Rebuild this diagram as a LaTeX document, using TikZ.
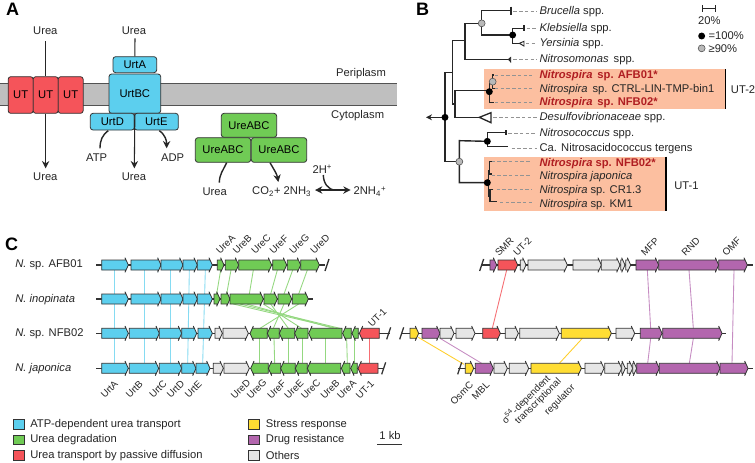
\documentclass[tikz,border=0pt]{standalone}
\usepackage{fontspec}
\setmainfont{Liberation Sans}
\usetikzlibrary{arrows.meta}
\definecolor{cyanp}{HTML}{5CCFEE}
\definecolor{greenp}{HTML}{70CB55}
\definecolor{redp}{HTML}{F5545A}
\definecolor{purplep}{HTML}{B366AE}
\definecolor{yellowp}{HTML}{FFDD33}
\definecolor{grayp}{HTML}{E6E6E6}
\definecolor{salmon}{HTML}{FCBFA0}
\definecolor{darkred}{HTML}{B01E22}
\definecolor{outl}{HTML}{333333}
\tikzset{
  lab/.style={inner sep=0pt,font=\fontsize{8.4}{10}\selectfont,text=black!85},
  gl/.style={inner sep=0pt,rotate=45,font=\fontsize{7.3}{9}\selectfont,text=black!85},
  prot/.style={draw=outl,line width=.6pt,rounded corners=2pt,inner sep=0pt,font=\fontsize{8.4}{10}\selectfont},
  flow/.style={line width=.8pt,draw=black!85,-{Stealth[length=5.5pt,width=5.5pt]}},
  plainline/.style={line width=.8pt,draw=black!85},
  genepath/.style={draw=outl,line width=.6pt,line join=miter},
  backbone/.style={draw=outl,line width=1pt},
  branch/.style={draw=black!85,line width=1.05pt},
  lead/.style={draw=gray!85,line width=.65pt,dash pattern=on 2.6pt off 1.7pt},
  full/.style={circle,fill=black,inner sep=0pt,minimum size=5.2pt},
  part/.style={circle,fill=gray!55,draw=black!70,line width=.4pt,inner sep=0pt,minimum size=5.2pt},
  panel/.style={inner sep=0pt,font=\fontsize{13.5}{15}\selectfont\bfseries},
  clink/.style={draw=#1,line width=.65pt},
  legbox/.style={draw=outl,line width=.4pt,minimum width=8.5pt,minimum height=7.2pt,inner sep=0pt},
}
% Gene arrows, pointing right or left: colour, start, end, row
\newcommand{\gr}[4]{\draw[genepath,fill=#1] (#2,#4-15) -- (#3-8,#4-15) -- (#3-10,#4-22) -- (#3,#4) -- (#3-10,#4+22) -- (#3-8,#4+15) -- (#2,#4+15) -- cycle;}
\newcommand{\grl}[4]{\draw[genepath,fill=#1] (#3,#4-15) -- (#2+8,#4-15) -- (#2+10,#4-22) -- (#2,#4) -- (#2+10,#4+22) -- (#2+8,#4+15) -- (#3,#4+15) -- cycle;}
\begin{document}
\begin{tikzpicture}[x=.75pt,y=-.75pt]
\useasboundingbox (0,0) rectangle (755,462);
\fill[white] (0,0) rectangle (755,462);

% ---------- urea uptake and degradation ----------
\begin{scope}[x=.25pt,y=-.25pt]
\node[panel] (pa) at (38,28) {A};
\fill[gray!50] (0,250) rectangle (1190,316);
\draw[outl!85,line width=.8pt] (0,250) -- (1190,250) (0,316) -- (1190,316);
\node[lab] (peri) at (1083,222) {Periplasm};
\node[lab] (cyto) at (1073,346) {Cytoplasm};
\node[prot,fill=redp,minimum width=18.75pt,minimum height=27.5pt] (ut1) at (62,285) {UT};
\node[prot,fill=redp,minimum width=18.75pt,minimum height=27.5pt] (ut2) at (137,285) {UT};
\node[prot,fill=redp,minimum width=18.75pt,minimum height=27.5pt] (ut3) at (212,285) {UT};
\node[prot,fill=cyanp,minimum width=38.75pt,minimum height=29.5pt] (bc) at (404.5,281) {UrtBC};
\node[prot,fill=cyanp,minimum width=32.75pt,minimum height=12pt] (ua) at (404.5,194) {UrtA};
\node[prot,fill=cyanp,minimum width=33pt,minimum height=12.5pt] (ud) at (337,365) {UrtD};
\node[prot,fill=cyanp,minimum width=33pt,minimum height=12.5pt] (ue) at (469,365) {UrtE};
\node[prot,fill=greenp,minimum width=41.5pt,minimum height=18pt] (g1) at (747,376) {UreABC};
\node[prot,fill=greenp,minimum width=41.5pt,minimum height=18.5pt] (g2) at (669,450) {UreABC};
\node[prot,fill=greenp,minimum width=41.5pt,minimum height=18.5pt] (g3) at (837,450) {UreABC};
\node[lab] (u1) at (136,92) {Urea};
\node[lab] (u2) at (402,92) {Urea};
\node[lab] (u3) at (136,530) {Urea};
\node[lab] (u4) at (402,530) {Urea};
\node[lab] (u5) at (644,574) {Urea};
\node[lab] (atp) at (290,474) {ATP};
\node[lab] (adp) at (518,474) {ADP};
\node[lab] (co) at (845,576) {CO\textsubscript{2}+ 2NH\textsubscript{3}};
\node[lab] (nh) at (1110,575) {2NH\textsubscript{4}\textsuperscript{+}};
\node[lab] (hh) at (967,507) {2H\textsuperscript{+}};
\coordinate (ua1) at (137,124);
\coordinate (ub1) at (405,115);
\coordinate (dblL) at (945,570);
\coordinate (dblR) at (1052,570);
\coordinate (dblM) at (1006,570);
\coordinate (atpS) at (325,392);
\coordinate (atpE) at (300,445);
\coordinate (adpS) at (478,392);
\coordinate (adpE) at (500,445);
\coordinate (gS) at (680,488);
\coordinate (gE) at (658,548);
\coordinate (cS) at (810,488);
\coordinate (cE) at (835,546);
\coordinate (hS) at (970,525);
\draw[plainline] (ua1) -- (ut2.north);
\draw[flow] (ut2.south) -- (137,505);
\draw[plainline] (ub1) -- (ua.north);
\draw[flow] (bc.south) -- (403,505);
\draw[plainline,line width=1.05pt] (atpS) to[out=215,in=90] (atpE);
\draw[flow,line width=1.05pt] (adpS) to[out=-35,in=90] (adpE);
\draw[plainline,line width=1.05pt] (gS) to[out=245,in=90] (gE);
\draw[flow,line width=1.05pt] (cS) to[out=-60,in=100] (cE);
\draw[line width=1.05pt,draw=black!85,{Stealth[length=5.5pt,width=5.5pt]}-{Stealth[length=5.5pt,width=5.5pt]}] (dblL) -- (dblR);
\draw[plainline,line width=1.05pt] (hS) to[out=-90,in=180] (dblM);
\end{scope}

% ---------- phylogeny ----------
\begin{scope}[shift={(400,0)},x=.25pt,y=-.25pt]
\node[panel] (pb) at (68,28) {B};
\fill[salmon] (252,208) rectangle (975,327);
\fill[salmon] (252,470) rectangle (797,633);
\draw[black,line width=1pt] (977,208) -- (977,327);
\draw[black,line width=1pt] (798,470) -- (798,633);
\node[lab,anchor=west] (tU2) at (992,270) {UT-2};
\node[lab,anchor=west] (tU1) at (822,556) {UT-1};

% leader lines
\foreach \xa/\xb/\yy in {340/410/35,380/410/85,378/410/130,340/410/178,285/395/225,285/395/265,285/395/308,280/410/352,325/410/400,335/410/445,275/395/485,275/395/527,290/395/568,300/395/607}
  {\draw[lead] (\xa,\yy) -- (\xb,\yy);}

% branches
\draw[branch,-{Stealth[length=4.5pt,width=4.5pt]}] (135,352) -- (78,352);
\draw[branch] (157,218) -- (135,218) -- (135,485) -- (178,485);
\draw[branch] (157,312) -- (157,122) -- (195,122);
\draw[branch] (245,70) -- (195,70) -- (195,178) -- (325,178);
\draw[branch] (333,32) -- (245,32) -- (245,105) -- (338,105);
\draw[branch] (333,20) -- (333,45);
\draw[branch] (372,85) -- (338,85) -- (338,130) -- (358,130);
\draw[branch] (372,76) -- (372,93);
\draw[branch,fill=white,line width=.7pt] (358,130) -- (372,124) -- (372,138) -- cycle;
\draw[branch,fill=black!85,line width=.5pt] (325,178) -- (332,172) -- (332,186) -- cycle;
\draw[branch] (157,312) -- (165,312);
\draw[branch] (268,272) -- (165,272) -- (165,352) -- (238,352);
\draw[branch,fill=white,line width=1pt] (238,352) -- (273,338) -- (273,368) -- cycle;
\draw[branch] (282,225) -- (278,225) -- (278,265) -- (285,265);
\draw[branch] (268,250) -- (268,308) -- (282,308);
\draw[branch] (262,424) -- (178,422) -- (178,548) -- (262,548);
\draw[branch] (318,397) -- (262,397) -- (262,440) -- (325,440);
\draw[branch] (318,391) -- (318,404);
\draw[branch] (275,485) -- (268,485) -- (268,522) -- (275,522);
\draw[branch] (265,510) -- (265,590);
\draw[branch] (280,568) -- (270,568) -- (270,605) -- (292,605);

% support values
\node[full] (n1) at (135,352) {};
\node[part] (n2) at (245,70) {};
\node[full] (n3) at (338,105) {};
\node[part] (n4) at (278,245) {};
\node[full] (n5) at (268,275) {};
\node[full] (n6) at (262,424) {};
\node[part] (n7) at (178,485) {};
\node[full] (n8) at (262,548) {};

% taxa
\node[lab,anchor=west] (t1) at (418,36) {\textit{Brucella} spp.};
\node[lab,anchor=west] (t2) at (418,85) {\textit{Klebsiella} spp.};
\node[lab,anchor=west] (t3) at (418,131) {\textit{Yersinia} spp.};
\node[lab,anchor=west] (t4) at (418,179) {\textit{Nitrosomonas}\, spp.};
\node[lab,anchor=west,text=darkred,font=\fontsize{8.4}{10}\selectfont\bfseries] (t5) at (418,226) {\textit{Nitrospira}\, sp. AFB01*};
\node[lab,anchor=west] (t6) at (418,268) {\textit{Nitrospira}\, sp. CTRL-LIN-TMP-bin1};
\node[lab,anchor=west,text=darkred,font=\fontsize{8.4}{10}\selectfont\bfseries] (t7) at (418,309) {\textit{Nitrospira}\, sp. NFB02*};
\node[lab,anchor=west] (t8) at (418,352) {\textit{Desulfovibrionaceae} spp.};
\node[lab,anchor=west] (t9) at (418,400) {\textit{Nitrosococcus} spp.};
\node[lab,anchor=west] (t10) at (418,447) {Ca. Nitrosacidococcus tergens};
\node[lab,anchor=west,text=darkred,font=\fontsize{8.4}{10}\selectfont\bfseries] (t11) at (418,491) {\textit{Nitrospira} sp. NFB02*};
\node[lab,anchor=west] (t12) at (418,529) {\textit{Nitrospira japonica}};
\node[lab,anchor=west] (t13) at (418,573) {\textit{Nitrospira} sp. CR1.3};
\node[lab,anchor=west] (t14) at (418,615) {\textit{Nitrospira} sp. KM1};

% key
\draw[branch,{Bar[width=5pt]}-{Bar[width=5pt]}] (905,25) -- (948,25);
\node[lab] (k0) at (928,61) {20\%};
\node[full] (k1) at (905,108) {};
\node[part] (k2) at (905,145) {};
\node[lab,anchor=west] (k3) at (925,108) {=100\%};
\node[lab,anchor=west] (k4) at (925,146) {≥90\%};
\end{scope}

% ---------- urea gene clusters ----------
\begin{scope}[shift={(0,225)},x=.25pt,y=-.25pt]
\node[panel] (pc) at (35,58) {C};
\node[lab,anchor=west] (r1) at (45,120) {\textit{N.} sp. AFB01};
\node[lab,anchor=west] (r2) at (45,224) {\textit{N. inopinata}};
\node[lab,anchor=west] (r3) at (45,327) {\textit{N.} sp. NFB02};
\node[lab,anchor=west] (r4) at (45,431) {\textit{N. japonica}};

% links between rows
\foreach \xa/\ya/\xb/\yb in {344/135/344/415,433/135/433/415,512/135/512/415,568/135/563/415,616/135/608/415}
  {\draw[clink=cyanp!75] (\xa,\ya) -- (\xb,\yb);}
\foreach \xa/\ya/\xb/\yb in {662/135/650/207,693/135/680/207,760/135/748/207,832/135/812/207,878/135/852/207,922/135/896/207,700/237/1010/310,720/237/1020/310,740/237/1000/310,790/237/905/310,812/237/865/310,852/237/820/310,896/237/780/310,777/340/777/415,822/340/824/415,866/340/866/415,908/340/908/415,977/340/977/415,1040/340/1042/415,1062/340/1062/415}
  {\draw[clink=greenp!75] (\xa,\ya) -- (\xb,\yb);}
\draw[clink=redp!85] (1107,340) -- (1107,415);

% backbones
\draw[backbone] (289,120) -- (975,120);
\draw[backbone] (289,222) -- (940,222);
\draw[backbone] (289,325) -- (1170,325);
\draw[backbone] (289,430) -- (1150,430);
\draw[backbone] (975,138) -- (987,102);
\draw[backbone] (1160,343) -- (1172,307);
\draw[backbone] (1145,448) -- (1157,412);

% genes
\foreach \a/\b in {305/385,393/483,483/549,549/592,592/637} {\gr{cyanp}{\a}{\b}{120}}
\foreach \a/\b in {652/672,676/716,716/815,818/860,862/902,902/958} {\gr{greenp}{\a}{\b}{120}}
\foreach \a/\b in {305/385,393/483,483/549,549/592,592/637} {\gr{cyanp}{\a}{\b}{222}}
\foreach \a/\b in {642/660,663/690,690/790,792/832,834/875,877/925} {\gr{greenp}{\a}{\b}{222}}
\foreach \a/\b in {305/385,388/478,478/545,545/590,594/637} {\gr{cyanp}{\a}{\b}{325}}
\foreach \a/\b in {645/667,669/745} {\gr{grayp}{\a}{\b}{325}}
\foreach \a/\b in {750/802,802/838,838/884,884/924,926/1026,1028/1054,1056/1075} {\grl{greenp}{\a}{\b}{325}}
\grl{redp}{1078}{1138}{325}
\foreach \a/\b in {305/385,388/476,478/545,545/588,588/630} {\gr{cyanp}{\a}{\b}{430}}
\foreach \a/\b in {640/670,672/748} {\gr{grayp}{\a}{\b}{430}}
\foreach \a/\b in {752/805,805/842,842/886,886/922,922/1022,1024/1050,1052/1072} {\grl{greenp}{\a}{\b}{430}}
\grl{redp}{1074}{1134}{430}

% gene names
\foreach \xx/\yy/\lbl [count=\i] in {677/58/UreA,727/58/UreB,783/58/UreC,837/58/UreF,898/58/UreG,960/58/UreD,1132/278/UT-1,328/493/UrtA,403/493/UrtB,474/493/UrtC,527/493/UrtD,580/493/UrtE,722/493/UreD,770/493/UreG,830/493/UreF,882/493/UreE,932/493/UreC,990/493/UreB,1040/493/UreA,1095/493/UT-1}
  {\node[gl] (na\i) at (\xx,\yy) {\lbl};}

% legend
\node[legbox,fill=cyanp] (l1) at (57,598) {};
\node[legbox,fill=greenp] (l2) at (57,644) {};
\node[legbox,fill=redp] (l3) at (57,691) {};
\node[legbox,fill=yellowp] (l4) at (762,598) {};
\node[legbox,fill=purplep] (l5) at (762,644) {};
\node[legbox,fill=grayp] (l6) at (762,691) {};
\node[lab,anchor=west] (lt1) at (90,598) {ATP-dependent urea transport};
\node[lab,anchor=west] (lt2) at (90,645) {Urea degradation};
\node[lab,anchor=west] (lt3) at (90,692) {Urea transport by passive diffusion};
\node[lab,anchor=west] (lt4) at (797,598) {Stress response};
\node[lab,anchor=west] (lt5) at (797,645) {Drug resistance};
\node[lab,anchor=west] (lt6) at (797,692) {Others};
\node[lab] (kb) at (1170,630) {1 kb};
\draw[black!80,line width=.8pt] (1132,658) -- (1206,658);
\end{scope}

% ---------- resistance gene clusters ----------
\begin{scope}[shift={(390,225)},x=.25pt,y=-.25pt]
\foreach \xa/\ya/\xb/\yb in {772/135/782/310,897/135/910/310,1032/135/1026/415,782/340/773/415,910/340/898/415,150/340/275/415}
  {\draw[clink=purplep!75] (\xa,\ya) -- (\xb,\yb);}
\foreach \xa/\ya/\xb/\yb in {85/337/222/418,577/340/508/415}
  {\draw[clink=yellowp!85!orange] (\xa,\ya) -- (\xb,\yb);}
\draw[clink=redp!85] (350,135) -- (307,310);

\draw[backbone] (275,120) -- (1090,120);
\draw[backbone] (35,325) -- (1008,325);
\draw[backbone] (205,430) -- (1090,430);
\draw[backbone] (269,138) -- (281,102);
\draw[backbone] (29,343) -- (41,307);
\draw[backbone] (203,448) -- (215,412);

\gr{purplep}{300}{320}{120}
\gr{redp}{324}{383}{120}
\foreach \a/\b in {391/408,414/532,549/634,634/690,692/705,707/722} {\gr{grayp}{\a}{\b}{120}}
\foreach \a/\b in {738/806,806/986,986/1072} {\gr{purplep}{\a}{\b}{120}}

\gr{yellowp}{60}{86}{325}
\gr{purplep}{96}{150}{325}
\foreach \a/\b in {150/192,198/255} {\gr{grayp}{\a}{\b}{325}}
\gr{redp}{278}{331}{325}
\foreach \a/\b in {346/385,389/508} {\gr{grayp}{\a}{\b}{325}}
\gr{yellowp}{514}{664}{325}
\gr{grayp}{678}{734}{325}
\foreach \a/\b in {751/816,818/996} {\gr{purplep}{\a}{\b}{325}}

\gr{yellowp}{226}{251}{430}
\gr{purplep}{256}{310}{430}
\foreach \a/\b in {312/352,358/416} {\gr{grayp}{\a}{\b}{430}}
\gr{yellowp}{423}{574}{430}
\foreach \a/\b in {585/642,644/695,695/706,712/728,728/740} {\gr{grayp}{\a}{\b}{430}}
\foreach \a/\b in {740/808,808/990,990/1074} {\gr{purplep}{\a}{\b}{430}}

\foreach \xx/\yy/\lbl [count=\i] in {343/65/SMR,397/65/UT-2,780/65/MFP,902/65/RND,1025/65/OMF,215/505/OsmC,272/497/MBL}
  {\node[gl] (nb\i) at (\xx,\yy) {\lbl};}
\node[gl] (s1) at (408,523) {σ\textsuperscript{54}-dependent};
\node[gl] (s2) at (445,530) {transcriptional};
\node[gl] (s3) at (510,525) {regulator};
\end{scope}
\end{tikzpicture}
\end{document}
